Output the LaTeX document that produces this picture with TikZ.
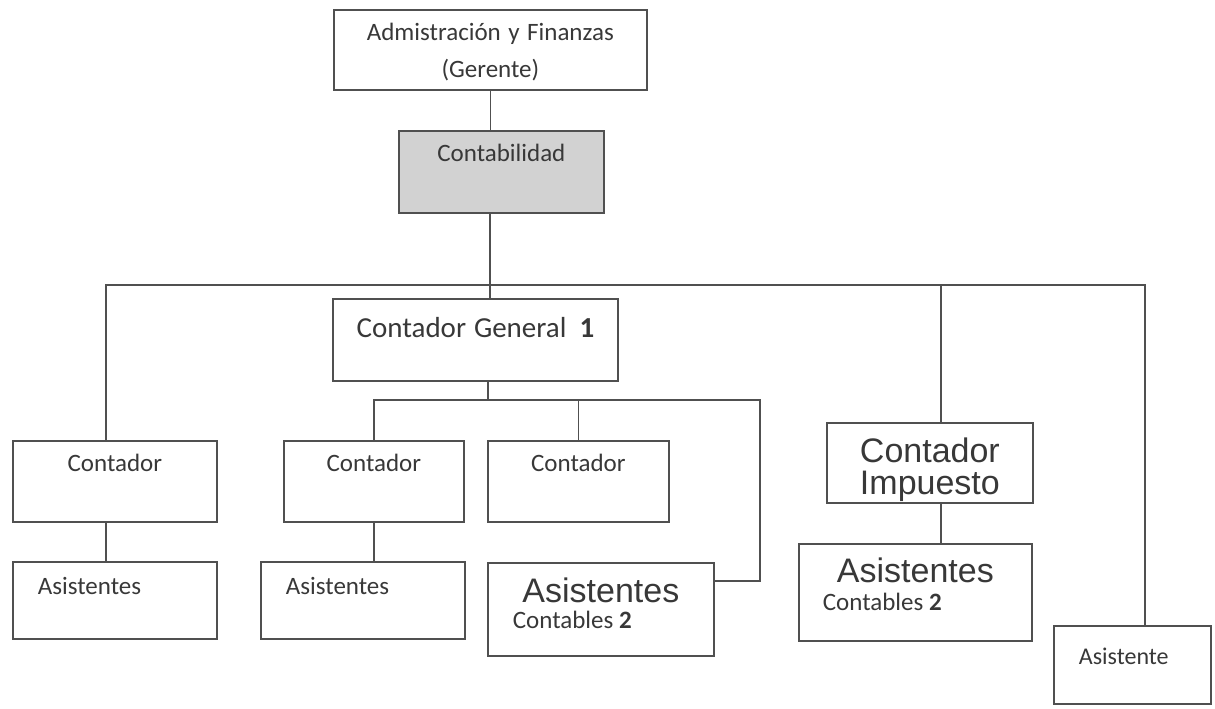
\documentclass[tikz,border=0pt]{standalone}
\usepackage{fontspec}
\setmainfont{Carlito}
\newfontfamily\arialfont{Liberation Sans}
\usetikzlibrary{positioning, calc}
\definecolor{linec}{HTML}{505050}
\definecolor{textc}{HTML}{383838}
\definecolor{shade}{HTML}{D2D2D2}

\begin{document}
\begin{tikzpicture}[x=0.5pt, y=-0.5pt,
    box/.style={draw=linec, line width=0.9pt, anchor=north west, inner sep=0pt,
                text=textc, font=\fontsize{12.5}{18.5}\selectfont,
                execute at begin node={\spaceskip=0pt\xspaceskip=0pt}},
    wire/.style={draw=linec, line width=0.9pt},
    big/.style={font=\arialfont\fontsize{17}{16}\selectfont}]
        \useasboundingbox (0,0) rectangle (1215,708);

        % top of the chart
        \node[box, align=center, text width=156.5pt, text height=15.5pt, text depth=24.5pt] (adm) at (333,9) {Admistración y Finanzas\\(Gerente)};
        \node[box, fill=shade, align=center, text width=102.5pt, text height=15.5pt, text depth=25.5pt] (conta) at (398,130) {Contabilidad};
        \node[box, align=center, text width=142.5pt, text height=19.5pt, text depth=21.5pt, font=\fontsize{14.5}{17}\selectfont] (gen) at (332,298) {Contador General\hspace{0.45em}\textbf{1}};

        % contadores
        \node[box, align=center, text width=102pt, text height=15.5pt, text depth=25pt] (cL) at (12,440) {Contador};
        \node[box, align=center, text width=90pt, text height=15.5pt, text depth=25pt] (cM) at (283,440) {Contador};
        \node[box, align=center, text width=90.5pt, text height=15.5pt, text depth=25pt] (cR) at (487,440) {Contador};
        \node[box, big, align=center, text width=103pt, text height=20pt, text depth=20pt] (ci) at (826,422) {Contador\\Impuesto};

        % asistentes
        \node[box, align=left, inner xsep=12.5pt, text width=77pt, text height=16.5pt, text depth=22pt] (aL) at (12,561) {Asistentes};
        \node[box, align=left, inner xsep=12.5pt, text width=77pt, text height=16.5pt, text depth=22pt] (aM) at (260,561) {Asistentes};
        \node[box, align=left, inner xsep=12.5pt, text width=88pt, text height=20pt, text depth=26.5pt, font=\fontsize{12.5}{13}\selectfont] (aC) at (487,562) {\makebox[88pt]{\arialfont\fontsize{17}{16}\selectfont Asistentes}\\Contables \textbf{2}};
        \node[box, align=left, inner xsep=12pt, text width=92.5pt, text height=19.5pt, text depth=29pt, font=\fontsize{12.5}{14}\selectfont] (aI) at (798,543) {\makebox[92.5pt]{\arialfont\fontsize{17}{16}\selectfont Asistentes}\\Contables \textbf{2}};
        \node[box, align=left, inner xsep=12.5pt, text width=53.5pt, text height=19.5pt, text depth=19.5pt, font=\fontsize{12}{14}\selectfont] (ast) at (1053,625) {Asistente};

        \coordinate (bus) at (490,285);
        \coordinate (busR) at (1145,285);
        \coordinate (sub) at (488,400);
        \coordinate (subR) at (760,400);

        \draw[wire] (adm.south) -- (adm.south |- conta.north);
        \draw[wire] (bus |- conta.south) -- (bus |- gen.north);
        \draw[wire] ([xshift=-4.5pt]cL.north) |- (bus) -- (busR) -- (busR |- ast.north);   %bus
        \draw[wire] ([xshift=5.5pt]ci.north |- bus) -- ([xshift=5.5pt]ci.north);
        \draw[wire] (sub |- gen.south) -- (sub);
        \draw[wire] (cM.north) |- (sub) -- (subR) |- ([yshift=14.25pt]aC.east);   %sub
        \draw[wire] (cR.north |- sub) -- (cR.north);

        \draw[wire] ([xshift=-4.5pt]cL.south) -- ([xshift=-4.5pt]cL.south |- aL.north);
        \draw[wire] (cM.south) -- (cM.south |- aM.north);
        \draw[wire] ([xshift=5.5pt]ci.south) -- ([xshift=5.5pt]ci.south |- aI.north);
\end{tikzpicture}
\end{document}
